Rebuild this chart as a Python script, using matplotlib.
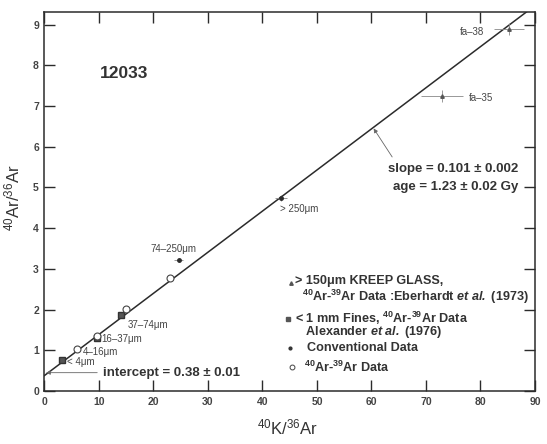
import numpy as np
import matplotlib
matplotlib.use('Agg')
import matplotlib.pyplot as plt

plt.rcParams['font.family'] = ['Liberation Sans', 'DejaVu Sans']
plt.rcParams['mathtext.fontset'] = 'custom'
plt.rcParams['mathtext.rm'] = 'Liberation Sans'
plt.rcParams['mathtext.it'] = 'Liberation Sans:italic'
plt.rcParams['mathtext.bf'] = 'Liberation Sans:bold'
plt.rcParams['mathtext.bfit'] = 'Liberation Sans:italic:bold'

# fit line
fit_intercept = 0.38
fit_slope = 0.101

# <1 mm fines (Alexander et al.)
fines_x = [3.2, 9.6, 14.1]
fines_y = [0.75, 1.31, 1.86]

# 40Ar-39Ar data (open circles)
arar_x = [5.9, 9.7, 15.0, 23.0]
arar_y = [1.04, 1.36, 2.01, 2.77]

# conventional data
conv_x = [24.6, 43.4]
conv_y = [3.22, 4.75]
conv_xerr = [0.75, 1.1]
conv_yerr = [0.03, 0.07]

# KREEP glass (fa-35, fa-38)
kreep_x = [73.0, 85.2]
kreep_y = [7.25, 8.9]
kreep_xerr = [3.85, 2.75]
kreep_yerr = [0.15, 0.15]

size_labels = ['< 4\u03bcm', '4\u201316\u03bcm', '16\u201337\u03bcm', '37\u201374\u03bcm',
               '74\u2013250\u03bcm', '> 250\u03bcm', 'fa\u201335', 'fa\u201338']
size_label_pos = [(4.1, 0.70), (7.1, 0.95), (10.5, 1.27), (15.3, 1.61),
                  (19.5, 3.48), (43.2, 4.47), (77.9, 7.2), (76.3, 8.82)]

ink = '#2b2b2b'

fig = plt.figure(figsize=(5.47, 4.44), dpi=100)
ax = fig.add_axes([0.0813, 0.1194, 0.8967, 0.8525])

xx = np.array([0, 90])
ax.plot(xx, fit_intercept + fit_slope * xx, color=ink, lw=1.1, zorder=2)

ax.errorbar(conv_x, conv_y, xerr=conv_xerr, yerr=conv_yerr, fmt='o', ms=2.5,
            color=ink, ecolor='#888888', elinewidth=0.6, capsize=0, zorder=3)
ax.errorbar(kreep_x, kreep_y, xerr=kreep_xerr, yerr=kreep_yerr, fmt='^', ms=2.5,
            color='#555555', ecolor='#888888', elinewidth=0.6, capsize=0, zorder=3)
ax.plot(fines_x, fines_y, 's', ms=4, color='#555555', mec='#333333', zorder=3)
ax.plot(arar_x, arar_y, 'o', ms=5, mfc='white', mec='#444444', mew=0.8, zorder=4)

for lab, (lx, ly) in zip(size_labels, size_label_pos):
    ax.text(lx, ly, lab, fontsize=7, color='#444444', va='center', ha='left')

ax.text(10.2, 7.8, '12033', fontsize=12.5, fontweight='bold', color='#333333', va='center')

ax.annotate('intercept = 0.38 \u00b1 0.01', xy=(0.3, 0.45), xytext=(10.7, 0.45),
            fontsize=9.5, fontweight='bold', color='#333333', va='center', ha='left',
            arrowprops=dict(arrowstyle='-|>', lw=0.6, color='#666666',
                            mutation_scale=6, shrinkA=2, shrinkB=0))

ax.annotate('', xy=(60.4, 6.45), xytext=(63.8, 5.75),
            arrowprops=dict(arrowstyle='-|>', lw=0.6, color='#666666',
                            mutation_scale=6, shrinkA=0, shrinkB=0))
ax.text(87.0, 5.46, 'slope = 0.101 \u00b1 0.002', fontsize=9.5, fontweight='bold',
        color='#333333', ha='right', va='center')
ax.text(87.0, 5.0, 'age = 1.23 \u00b1 0.02 Gy', fontsize=9.5, fontweight='bold',
        color='#333333', ha='right', va='center')

# key
ax.plot([45.2], [2.65], '^', ms=2.5, color='#555555')
ax.plot([44.6], [1.77], 's', ms=2.5, color='#555555')
ax.plot([45.0], [1.06], 'o', ms=2, color='#333333')
ax.plot([45.4], [0.59], 'o', ms=3.5, mfc='white', mec='#444444', mew=0.7)
key_kw = dict(fontsize=9.1, fontweight='bold', color='#333333', va='center', ha='left')
ar_pair = r'$\mathbf{^{40}Ar}$-$\mathbf{^{39}Ar}$'
ax.text(45.9, 2.47, '> 150\u03bcm KREEP GLASS,\n  ' + ar_pair
        + r' Data :Eberhardt $\mathbfit{et\ al.\ }$(1973)', linespacing=1.1, **key_kw)
ax.text(45.9, 1.62, '< 1 mm Fines, ' + ar_pair + ' Data\n   Alexander '
        + r'$\mathbfit{et\ al.\ }$(1976)', linespacing=0.72, **key_kw)
ax.text(48.1, 1.06, 'Conventional Data', **key_kw)
ax.text(47.7, 0.59, ar_pair + ' Data', **key_kw)

ax.set_xlim(0, 90)
ax.set_ylim(0, 9.3)
ax.set_xticks(np.arange(0, 91, 10))
ax.set_yticks(np.arange(0, 10, 1))
ax.tick_params(direction='in', length=8, width=1, colors=ink, labelcolor='#444444',
               labelsize=7.5, top=True, right=True, pad=4)
for lab in ax.get_xticklabels() + ax.get_yticklabels():
    lab.set_fontweight('bold')
for sp in ax.spines.values():
    sp.set_color(ink)
    sp.set_linewidth(1.1)

ax.set_xlabel(r'$^{40}$K/$^{36}$Ar', fontsize=12, color='#333333')
ax.set_ylabel(r'$^{40}$Ar/$^{36}$Ar', fontsize=12, color='#333333')
ax.xaxis.set_label_coords(0.495, -0.07)
ax.yaxis.set_label_coords(-0.044, 0.51)

fig.savefig('out.png', dpi=100)
